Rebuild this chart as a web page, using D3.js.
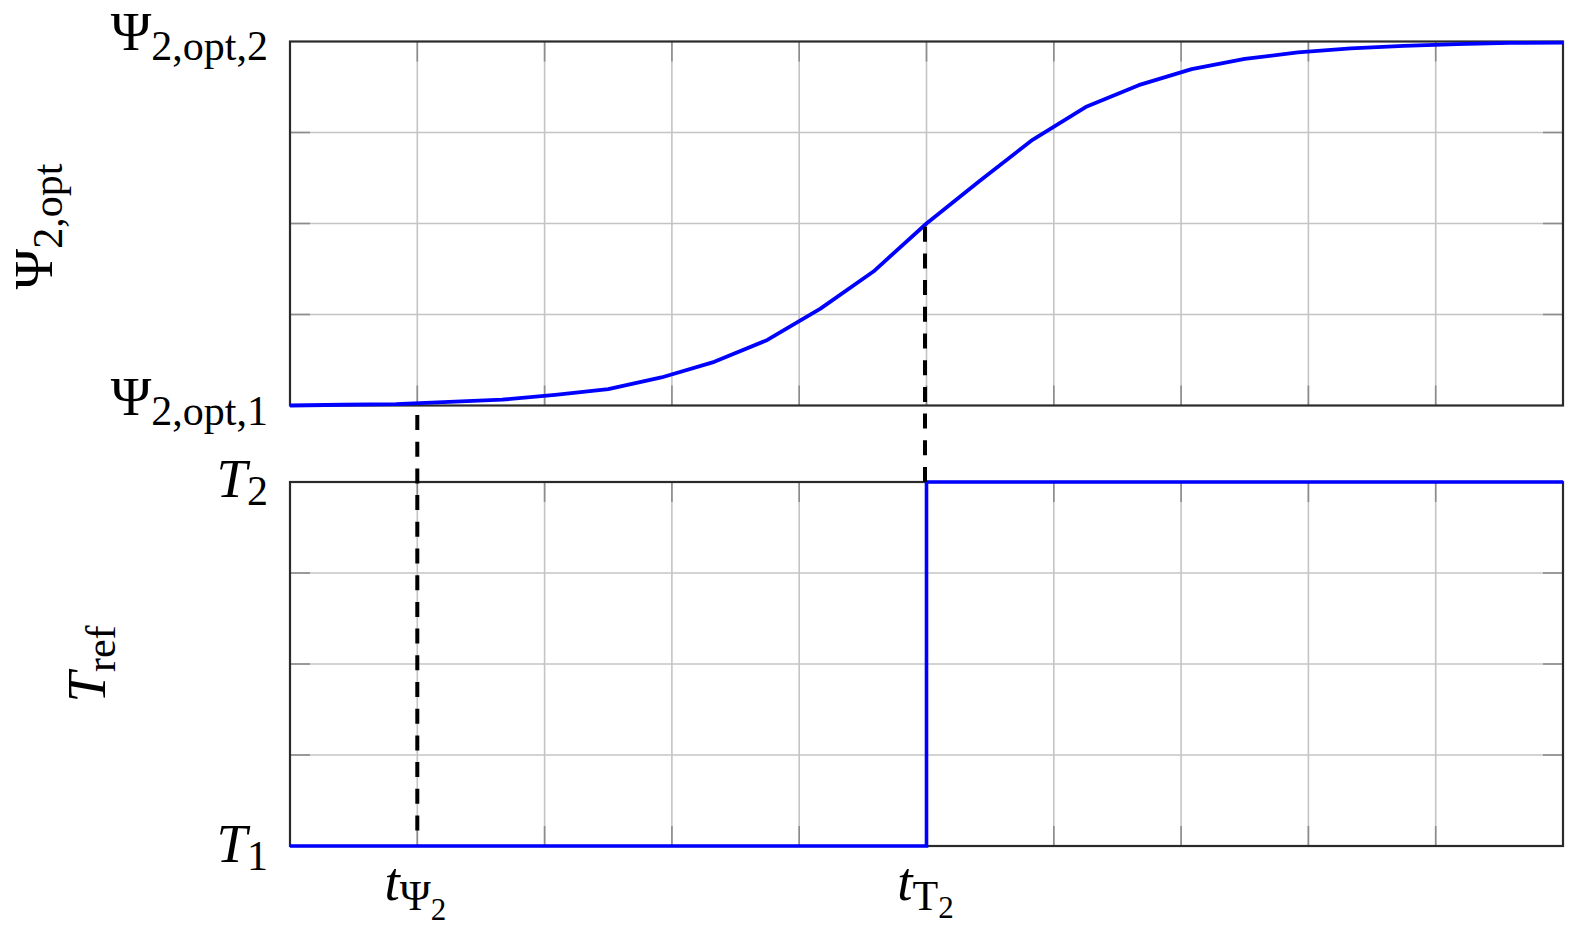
<!DOCTYPE html>
<html>
<head>
<meta charset="utf-8">
<script src="https://cdn.jsdelivr.net/npm/d3@7"></script>
<style>
  body { margin: 0; background: #fff; }
  text { font-family: "Liberation Serif", serif; fill: #000; }
</style>
</head>
<body>
<script>
// time axis, 10 grid divisions
var tVals = [0, 0.417, 0.833, 1.25, 1.667, 2.083, 2.5, 2.917, 3.333, 3.75, 4.167, 4.583,
             5, 5.417, 5.833, 6.25, 6.667, 7.083, 7.5, 7.917, 8.333, 8.75, 9.167, 9.583, 10];
// Psi_2,opt normalised: 0 = Psi_2,opt,1, 1 = Psi_2,opt,2
var psiVals = [0, 0.002, 0.004, 0.01, 0.016, 0.029, 0.045, 0.077, 0.12, 0.18, 0.266, 0.368,
               0.5, 0.617, 0.73, 0.82, 0.88, 0.924, 0.952, 0.97, 0.981, 0.988, 0.993, 0.996, 0.997];
// T_ref step: 0 = T1, 1 = T2
var stepT = [0, 5, 10];
var stepVals = [0, 1, 1];

var tPsi2 = 1, tT2 = 5, psiAtT2 = 0.5;
var xGridVals = [0, 1, 2, 3, 4, 5, 6, 7, 8, 9, 10];
var yGridVals = [0, 0.25, 0.5, 0.75, 1];

var W = 1579, H = 934;
var svg = d3.select("body").append("svg").attr("width", W).attr("height", H);

var x = d3.scaleLinear().domain([0, 10]).range([290, 1563]);
var yTop = d3.scaleLinear().domain([0, 1]).range([405.5, 41.5]);
var yBot = d3.scaleLinear().domain([0, 1]).range([846, 482]);

function panel(y) {
  var g = svg.append("g");
  g.selectAll("line.vg").data(xGridVals.slice(1, -1)).enter().append("line")
    .attr("x1", d => x(d)).attr("x2", d => x(d))
    .attr("y1", y.range()[1]).attr("y2", y.range()[0])
    .style("stroke", "#c4c4c4").style("stroke-width", 1.6);
  g.selectAll("line.hg").data(yGridVals.slice(1, -1)).enter().append("line")
    .attr("x1", x(0)).attr("x2", x(10))
    .attr("y1", d => y(d)).attr("y2", d => y(d))
    .style("stroke", "#c4c4c4").style("stroke-width", 1.6);
  // small tick marks, inside on all sides
  var tl = 20;
  xGridVals.slice(1, -1).forEach(function(d) {
    g.append("line").attr("x1", x(d)).attr("x2", x(d)).attr("y1", y(1)).attr("y2", y(1) + tl)
      .style("stroke", "#8c8c8c").style("stroke-width", 1.6);
    g.append("line").attr("x1", x(d)).attr("x2", x(d)).attr("y1", y(0)).attr("y2", y(0) - tl)
      .style("stroke", "#8c8c8c").style("stroke-width", 1.6);
  });
  yGridVals.slice(1, -1).forEach(function(d) {
    g.append("line").attr("x1", x(0)).attr("x2", x(0) + tl).attr("y1", y(d)).attr("y2", y(d))
      .style("stroke", "#8c8c8c").style("stroke-width", 1.6);
    g.append("line").attr("x1", x(10)).attr("x2", x(10) - tl).attr("y1", y(d)).attr("y2", y(d))
      .style("stroke", "#8c8c8c").style("stroke-width", 1.6);
  });
  g.append("rect")
    .attr("x", x(0)).attr("y", y(1))
    .attr("width", x(10) - x(0)).attr("height", y(0) - y(1))
    .style("fill", "none").style("stroke", "#2a2a2a").style("stroke-width", 2.2);
  return g;
}

panel(yTop);
panel(yBot);

// Psi curve
svg.append("path")
  .datum(tVals.map((t, i) => [t, psiVals[i]]))
  .attr("d", d3.line().x(d => x(d[0])).y(d => yTop(d[1])))
  .style("fill", "none").style("stroke", "#0000ff").style("stroke-width", 3.8)
  .style("stroke-linejoin", "round");

// T_ref step
svg.append("path")
  .datum(stepT.map((t, i) => [t, stepVals[i]]))
  .attr("d", d3.line().curve(d3.curveStepAfter).x(d => x(d[0])).y(d => yBot(d[1])))
  .style("fill", "none").style("stroke", "#0000ff").style("stroke-width", 3.6);

// dashed markers
svg.append("line")
  .attr("x1", x(tPsi2)).attr("x2", x(tPsi2))
  .attr("y1", yTop(0) + 9.5).attr("y2", yBot(0) - 15.5)
  .style("stroke", "#000").style("stroke-width", 4).style("stroke-dasharray", "15 11.7");
svg.append("line")
  .attr("x1", x(tT2) - 1.5).attr("x2", x(tT2) - 1.5)
  .attr("y1", yBot(1)).attr("y2", yTop(psiAtT2))
  .style("stroke", "#000").style("stroke-width", 4).style("stroke-dasharray", "15 11.7");

// text helper: parts = [text, size, dy, italic]
function label(g, px, py, anchor, parts) {
  var t = g.append("text").attr("x", px).attr("y", py).attr("text-anchor", anchor);
  parts.forEach(function(p) {
    t.append("tspan").text(p[0]).style("font-size", p[1] + "px")
      .attr("dy", p[2]).style("font-style", p[3] ? "italic" : "normal");
  });
  return t;
}

var main = 55, sub = 42, subsub = 31;
// y tick labels
label(svg, 268, 50, "end", [["Ψ", main, 0], ["2,opt,2", sub, 10]]);
label(svg, 268, 415, "end", [["Ψ", main, 0], ["2,opt,1", sub, 10]]);
label(svg, 268, 497, "end", [["T", main, 0, true], ["2", sub, 8]]);
label(svg, 268, 862, "end", [["T", main, 0, true], ["1", sub, 8]]);

// x tick labels
label(svg, x(tPsi2) - 2, 900, "middle", [["t", main, 0, true], ["Ψ", sub, 10], ["2", subsub, 10]]);
label(svg, x(tT2) - 1, 900, "middle", [["t", main, 0, true], ["T", sub, 10], ["2", subsub, 8]]);

// axis labels
var g1 = svg.append("g").attr("transform", "translate(52," + (yTop(0.5) + 3) + ") rotate(-90)");
label(g1, 0, 0, "middle", [["Ψ", main, 0], ["2,opt", sub, 10]]);
var g2 = svg.append("g").attr("transform", "translate(105," + yBot(0.5) + ") rotate(-90)");
label(g2, 0, 0, "middle", [["T", main, 0, true], ["ref", sub, 10]]);
</script>
</body>
</html>
